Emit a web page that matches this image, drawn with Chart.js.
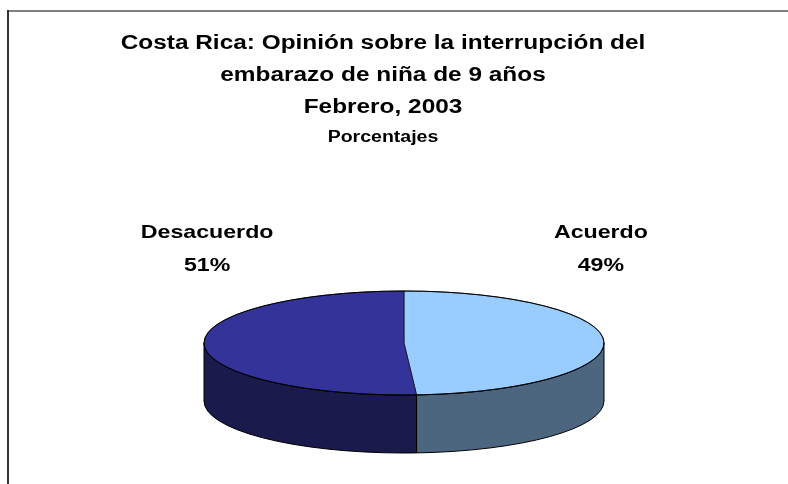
<!DOCTYPE html>
<html lang="es">
<head>
<meta charset="utf-8">
<title>Costa Rica: Opinión sobre la interrupción del embarazo de niña de 9 años</title>
<script src="https://cdn.jsdelivr.net/npm/chart.js@4.4.1/dist/chart.umd.min.js"></script>
<style>
  html, body { margin: 0; padding: 0; background: #fff; }
  canvas { display: block; }
</style>
</head>
<body>
<canvas id="grafico" width="788" height="484"></canvas>
<script>
// Categorías y valores (%)
const categorias = ["Acuerdo", "Desacuerdo"];
const porcentajes = [49, 51];

// Colores: cara superior y costado del pastel
const coloresCara = ["#99CCFF", "#333399"];
const coloresLado = ["#4C6680", "#1A1A4D"];

// Textos
const titulo = ["Costa Rica: Opinión sobre la interrupción del", "embarazo de niña de 9 años", "Febrero, 2003"];
const subtitulo = "Porcentajes";

const fuente = "Arial, 'Liberation Sans', Helvetica, sans-serif";
const estiramiento = 1.22; // el texto original sale más ancho (imagen estirada)

// escribe un texto centrado, estirado a lo ancho
function texto(ctx, t, x, y, size) {
    ctx.save();
    ctx.font = 'bold ' + size + 'px ' + fuente;
    ctx.fillStyle = '#000';
    ctx.textAlign = 'center';
    ctx.textBaseline = 'middle';
    ctx.translate(x, y);
    ctx.scale(estiramiento, 1);
    ctx.fillText(t, 0, 0);
    ctx.restore();
}

// Marco del gráfico (solo se ve arriba y a la izquierda) + títulos
const marco = {
    id: 'marco',
    beforeDraw(chart, args, opts) {
        const ctx = chart.ctx;
        ctx.save();
        ctx.lineWidth = 2;
        ctx.strokeStyle = '#808080';
        ctx.beginPath(); ctx.moveTo(7, 11); ctx.lineTo(chart.width, 11); ctx.stroke();
        ctx.strokeStyle = '#333333';
        ctx.beginPath(); ctx.moveTo(8, 10); ctx.lineTo(8, chart.height); ctx.stroke();
        ctx.restore();

        titulo.forEach((linea, i) => texto(ctx, linea, opts.centroX, opts.y0 + i * 32, 20));
        texto(ctx, subtitulo, opts.centroX, opts.y0 + 95, 16);
    }
};

// Pastel "3D": aplasta el pastel en una elipse y le dibuja el costado
const pastel3d = {
    id: 'pastel3d',
    beforeDatasetsDraw(chart, args, opts) {
        const ctx = chart.ctx;
        const arcs = chart.getDatasetMeta(0).data;
        const { x, y, outerRadius: r } = arcs[0];
        const ry = r * opts.inclinacion;
        ctx.save();
        // costados (solo la mitad de adelante se ve)
        arcs.forEach((arc, i) => {
            [0, 2 * Math.PI, -2 * Math.PI].forEach(base => {
                const a = Math.max(arc.startAngle, base);
                const b = Math.min(arc.endAngle, base + Math.PI);
                if (b <= a) return;
                ctx.beginPath();
                ctx.ellipse(x, y, r, ry, 0, a - base, b - base);
                ctx.ellipse(x, y + opts.grosor, r, ry, 0, b - base, a - base, true);
                ctx.closePath();
                ctx.fillStyle = coloresLado[i];
                ctx.fill();
                ctx.lineWidth = 1;
                ctx.strokeStyle = '#000';
                ctx.stroke();
            });
        });
        // la cara de arriba la dibuja Chart.js, aplastada
        ctx.translate(x, y);
        ctx.scale(1, opts.inclinacion);
        ctx.translate(-x, -y);
    },
    afterDatasetsDraw(chart, args, opts) {
        const ctx = chart.ctx;
        ctx.restore();
        const arcs = chart.getDatasetMeta(0).data;
        const { x, y, outerRadius: r } = arcs[0];
        const ry = r * opts.inclinacion;

        ctx.save();
        ctx.lineWidth = 1;
        ctx.strokeStyle = '#000';
        ctx.beginPath();
        ctx.ellipse(x, y, r, ry, 0, 0, 2 * Math.PI);
        ctx.stroke();
        ctx.restore();

        // etiquetas: nombre y porcentaje
        const total = porcentajes.reduce((s, v) => s + v, 0);
        arcs.forEach((arc, i) => {
            const medio = (arc.startAngle + arc.endAngle) / 2;
            const lx = x + Math.cos(medio) * r * 0.985;
            const ly = y - ry - opts.alturaEtiqueta;
            texto(ctx, categorias[i], lx, ly, 19);
            texto(ctx, Math.round(porcentajes[i] / total * 100) + '%', lx, ly + 33, 19);
        });
    }
};

new Chart(document.getElementById('grafico'), {
    type: 'pie',
    data: {
        labels: categorias,
        datasets: [{
            data: porcentajes,
            backgroundColor: coloresCara,
            borderColor: '#000',
            borderWidth: 1,
            radius: 200,
            clip: false
        }]
    },
    options: {
        responsive: false,
        animation: false,
        events: [],
        layout: { padding: { top: 202, left: 20 } },
        plugins: {
            legend: { display: false },
            tooltip: { enabled: false },
            marco: { centroX: 383, y0: 43 },
            pastel3d: { inclinacion: 0.26, grosor: 58, alturaEtiqueta: 58 }
        }
    },
    plugins: [marco, pastel3d]
});
</script>
</body>
</html>
